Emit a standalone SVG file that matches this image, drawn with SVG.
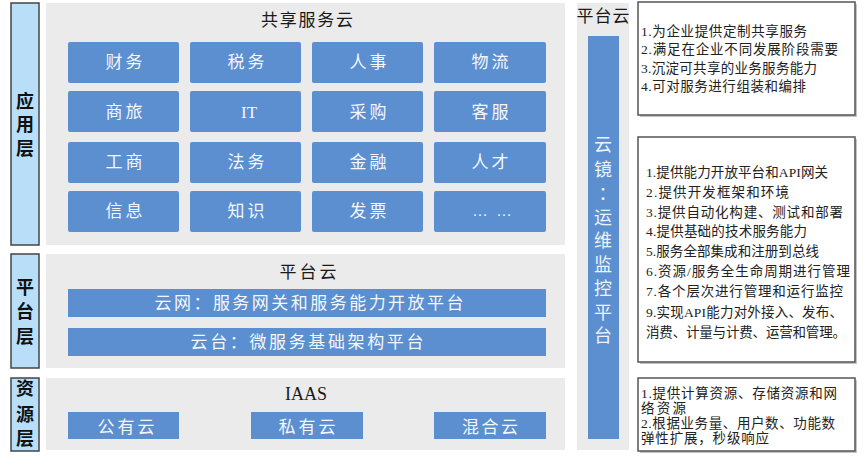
<svg xmlns="http://www.w3.org/2000/svg" width="865" height="467" viewBox="0 0 865 467">
<style>
text{font-family:"Liberation Serif","Noto Sans CJK SC",serif;}
.layer{fill:#b8def8;stroke:#444;stroke-width:1.5;}
.layertxt{font-size:18px;fill:#111;text-anchor:middle;font-weight:bold;}
.panel{fill:#ebebeb;}
.blue{fill:#5b8fd0;}
.btxt{font-size:17px;fill:#f4f7fc;text-anchor:middle;}
.title{font-size:17px;fill:#1a1a1a;text-anchor:middle;}
.note{fill:#fff;stroke:#555;stroke-width:1.5;}
.shadow{fill:#c4c4c4;}
.ntxt{font-size:13.5px;fill:#222;}
.vtxt{font-size:18px;fill:#eef3fb;text-anchor:middle;}
</style>
<rect width="865" height="467" fill="#fff"/>

<g id="layer-app">
<rect class="layer" x="11" y="3" width="28" height="242"/>
<text class="layertxt" x="25" y="108">应</text>
<text class="layertxt" x="25" y="131">用</text>
<text class="layertxt" x="25" y="155">层</text>
</g>
<g id="layer-platform">
<rect class="layer" x="11" y="254" width="28" height="114"/>
<text class="layertxt" x="25" y="294">平</text>
<text class="layertxt" x="25" y="318">台</text>
<text class="layertxt" x="25" y="343">层</text>
</g>
<g id="layer-resource">
<rect class="layer" x="11" y="378" width="28" height="73"/>
<text class="layertxt" x="25" y="395">资</text>
<text class="layertxt" x="25" y="421">源</text>
<text class="layertxt" x="25" y="445">层</text>
</g>

<g id="shared-service-cloud">
<rect class="panel" x="46" y="3" width="519" height="242"/>
<text class="title" x="307" y="26" textLength="92">共享服务云</text>
</g>
<g id="svc-caiwu"><rect class="blue" x="68" y="42" width="111" height="41" rx="2"/><text class="btxt" x="124" y="68" textLength="37">财务</text></g>
<g id="svc-shuiwu"><rect class="blue" x="190" y="42" width="111" height="41" rx="2"/><text class="btxt" x="246" y="68" textLength="37">税务</text></g>
<g id="svc-renshi"><rect class="blue" x="312" y="42" width="111" height="41" rx="2"/><text class="btxt" x="368" y="68" textLength="37">人事</text></g>
<g id="svc-wuliu"><rect class="blue" x="434" y="42" width="112" height="41" rx="2"/><text class="btxt" x="490" y="68" textLength="37">物流</text></g>
<g id="svc-shanglv"><rect class="blue" x="68" y="91" width="111" height="41" rx="2"/><text class="btxt" x="124" y="118" textLength="37">商旅</text></g>
<g id="svc-it"><rect class="blue" x="190" y="91" width="111" height="41" rx="2"/><text class="btxt" x="249" y="118">IT</text></g>
<g id="svc-caigou"><rect class="blue" x="312" y="91" width="111" height="41" rx="2"/><text class="btxt" x="368" y="118" textLength="37">采购</text></g>
<g id="svc-kefu"><rect class="blue" x="434" y="91" width="112" height="41" rx="2"/><text class="btxt" x="490" y="118" textLength="37">客服</text></g>
<g id="svc-gongshang"><rect class="blue" x="68" y="142" width="111" height="41" rx="2"/><text class="btxt" x="124" y="168" textLength="37">工商</text></g>
<g id="svc-fawu"><rect class="blue" x="190" y="142" width="111" height="41" rx="2"/><text class="btxt" x="246" y="168" textLength="37">法务</text></g>
<g id="svc-jinrong"><rect class="blue" x="312" y="142" width="111" height="41" rx="2"/><text class="btxt" x="368" y="168" textLength="37">金融</text></g>
<g id="svc-rencai"><rect class="blue" x="434" y="142" width="112" height="41" rx="2"/><text class="btxt" x="490" y="168" textLength="37">人才</text></g>
<g id="svc-xinxi"><rect class="blue" x="68" y="191" width="111" height="41" rx="2"/><text class="btxt" x="124" y="217" textLength="37">信息</text></g>
<g id="svc-zhishi"><rect class="blue" x="190" y="191" width="111" height="41" rx="2"/><text class="btxt" x="246" y="217" textLength="37">知识</text></g>
<g id="svc-fapiao"><rect class="blue" x="312" y="191" width="111" height="41" rx="2"/><text class="btxt" x="368" y="217" textLength="37">发票</text></g>
<g id="svc-more"><rect class="blue" x="434" y="191" width="112" height="41" rx="2"/><text class="btxt" x="492" y="216" style="font-size:15px;font-family:'Liberation Serif',serif" textLength="39">……</text></g>

<g id="platform-cloud">
<rect class="panel" x="46" y="254" width="519" height="114"/>
<text class="title" x="308" y="278" textLength="57">平台云</text>
</g>
<g id="yunwang"><rect class="blue" x="68" y="289" width="478" height="28"/><text class="btxt" x="309" y="309" textLength="309">云网：服务网关和服务能力开放平台</text></g>
<g id="yuntai"><rect class="blue" x="68" y="328" width="478" height="28"/><text class="btxt" x="307" y="348" textLength="233">云台：微服务基础架构平台</text></g>

<g id="iaas">
<rect class="panel" x="46" y="378" width="519" height="72"/>
<text class="title" x="306" y="400" style="font-size:18px">IAAS</text>
</g>
<g id="public-cloud"><rect class="blue" x="68" y="412" width="111" height="27"/><text class="btxt" x="126" y="433" textLength="57">公有云</text></g>
<g id="private-cloud"><rect class="blue" x="251" y="412" width="112" height="27"/><text class="btxt" x="307" y="433" textLength="57">私有云</text></g>
<g id="hybrid-cloud"><rect class="blue" x="434" y="412" width="112" height="27"/><text class="btxt" x="490" y="433" textLength="56">混合云</text></g>

<g id="yunjing">
<rect class="panel" x="577" y="3" width="52" height="447"/>
<text class="title" x="603" y="22" textLength="53">平台云</text>
<rect class="blue" x="588" y="36" width="31" height="403"/>
<text class="vtxt" x="603" y="151">云</text>
<text class="vtxt" x="603" y="176">镜</text>
<text class="vtxt" x="603" y="201" style="font-family:'Noto Sans CJK TC',sans-serif">：</text>
<text class="vtxt" x="603" y="224">运</text>
<text class="vtxt" x="603" y="247">维</text>
<text class="vtxt" x="603" y="271">监</text>
<text class="vtxt" x="603" y="295">控</text>
<text class="vtxt" x="603" y="319">平</text>
<text class="vtxt" x="603" y="342">台</text>
</g>

<g id="note-shared">
<rect class="shadow" x="640" y="4" width="217" height="113"/>
<rect class="note" x="638" y="2" width="217" height="113"/>
<text class="ntxt" x="641" y="36" textLength="166">1.为企业提供定制共享服务</text>
<text class="ntxt" x="641" y="54" textLength="197">2.满足在企业不同发展阶段需要</text>
<text class="ntxt" x="641" y="73" textLength="176">3.沉淀可共享的业务服务能力</text>
<text class="ntxt" x="641" y="91" textLength="165">4.可对服务进行组装和编排</text>
</g>

<g id="note-platform">
<rect class="shadow" x="640" y="139" width="217" height="225"/>
<rect class="note" x="638" y="137" width="217" height="225"/>
<text class="ntxt" x="646" y="177" textLength="182">1.提供能力开放平台和API网关</text>
<text class="ntxt" x="646" y="197" textLength="143">2.提供开发框架和环境</text>
<text class="ntxt" x="646" y="217" textLength="197">3.提供自动化构建、测试和部署</text>
<text class="ntxt" x="646" y="236" textLength="161">4.提供基础的技术服务能力</text>
<text class="ntxt" x="646" y="256" textLength="173">5.服务全部集成和注册到总线</text>
<text class="ntxt" x="646" y="276" textLength="204">6.资源/服务全生命周期进行管理</text>
<text class="ntxt" x="646" y="296" textLength="197">7.各个层次进行管理和运行监控</text>
<text class="ntxt" x="646" y="317" textLength="197">9.实现API能力对外接入、发布、</text>
<text class="ntxt" x="646" y="337" textLength="200">消费、计量与计费、运营和管理。</text>
</g>

<g id="note-iaas">
<rect class="shadow" x="640" y="380" width="217" height="73"/>
<rect class="note" x="638" y="378" width="217" height="73"/>
<text class="ntxt" x="641" y="398" textLength="196">1.提供计算资源、存储资源和网</text>
<text class="ntxt" x="641" y="413" textLength="45">络资源</text>
<text class="ntxt" x="641" y="428" textLength="194">2.根据业务量、用户数、功能数</text>
<text class="ntxt" x="641" y="443" textLength="128">弹性扩展，秒级响应</text>
</g>

<g id="connectors"></g>
</svg>
